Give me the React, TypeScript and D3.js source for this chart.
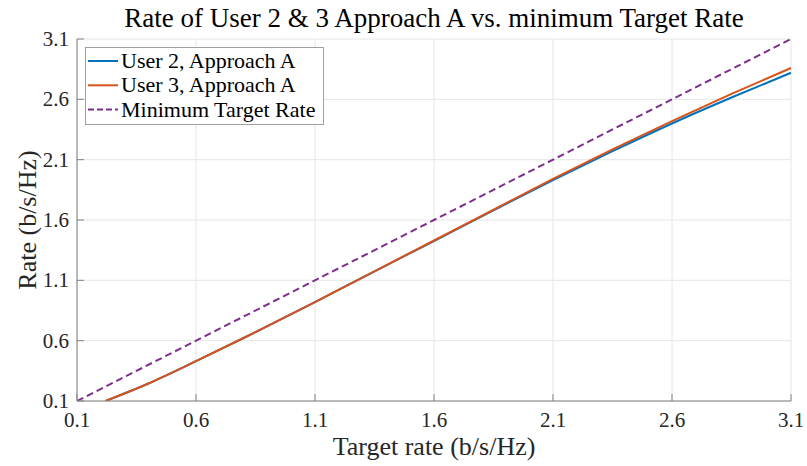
import React from "react";
import * as d3 from "d3";

const xTicks = [0.1, 0.6, 1.1, 1.6, 2.1, 2.6, 3.1];
const yTicks = [0.1, 0.6, 1.1, 1.6, 2.1, 2.6, 3.1];

const targetsU3 = [0.22, 0.4, 0.6, 0.8, 1.1, 1.35, 1.6, 1.85, 2.1, 2.35, 2.6, 2.85, 3.1];
const user3 = [0.1, 0.245, 0.43, 0.622, 0.92, 1.175, 1.43, 1.685, 1.94, 2.185, 2.42, 2.645, 2.86];
const targetsU2 = [0.22, 0.4, 0.6, 0.8, 1.1, 1.35, 1.6, 1.85, 2.1, 2.35, 2.6, 2.85, 3.1];
const user2 = [0.1, 0.245, 0.43, 0.622, 0.92, 1.175, 1.425, 1.68, 1.93, 2.17, 2.4, 2.615, 2.82];
const targetsMin = [0.1, 3.1];
const minRate = [0.1, 3.1];

const legendLabels = ["User 2, Approach A", "User 3, Approach A", "Minimum Target Rate"];
const colors = ["#0072BD", "#D95319", "#7E2F8E"];

const W = 807, H = 466;
const L = 77, R = 791, T = 39, B = 401;
const FONT = "Liberation Serif, DejaVu Serif, serif";

export default function App() {
  const x = d3.scaleLinear().domain([0.1, 3.1]).range([L, R]);
  const y = d3.scaleLinear().domain([0.1, 3.1]).range([B, T]);
  const line = (xs: number[], ys: number[]) =>
    d3.line<number>().x((_, i) => x(xs[i])).y((d) => y(d)).curve(d3.curveMonotoneX)(ys) || "";

  const series = [
    { xs: targetsU2, ys: user2, dash: undefined },
    { xs: targetsU3, ys: user3, dash: undefined },
    { xs: targetsMin, ys: minRate, dash: "7,4" },
  ];

  return (
    <svg width={W} height={H} style={{ position: "absolute", left: 0, top: 0, background: "#fff" }}>
      <defs>
        <clipPath id="plotclip">
          <rect x={L} y={T - 2} width={R - L + 2} height={B - T + 2} />
        </clipPath>
      </defs>
      <rect x={0} y={0} width={W} height={H} fill="#fff" />
      {xTicks.map((t) => (
        <line key={"gx" + t} x1={x(t)} x2={x(t)} y1={T} y2={B} stroke="#e6e6e6" strokeWidth={1} />
      ))}
      {yTicks.map((t) => (
        <line key={"gy" + t} x1={L} x2={R} y1={y(t)} y2={y(t)} stroke="#e6e6e6" strokeWidth={1} />
      ))}
      <g clipPath="url(#plotclip)">
        {series.map((s, i) => (
          <path key={i} d={line(s.xs, s.ys)} fill="none" stroke={colors[i]} strokeWidth={2} strokeDasharray={s.dash} />
        ))}
      </g>
      <line x1={L} x2={R} y1={B} y2={B} stroke="#808080" strokeWidth={1} />
      <line x1={L} x2={L} y1={T} y2={B} stroke="#808080" strokeWidth={1} />
      {xTicks.map((t) => (
        <g key={"tx" + t}>
          <line x1={x(t)} x2={x(t)} y1={B} y2={B - 7} stroke="#808080" />
          <text x={x(t)} y={427} textAnchor="middle" fontFamily={FONT} fontSize={21} fill="#262626">
            {t.toFixed(1)}
          </text>
        </g>
      ))}
      {yTicks.map((t) => (
        <g key={"ty" + t}>
          <line x1={L} x2={L + 7} y1={y(t)} y2={y(t)} stroke="#808080" />
          <text x={69} y={y(t) + 7} textAnchor="end" fontFamily={FONT} fontSize={21} fill="#262626">
            {t.toFixed(1)}
          </text>
        </g>
      ))}
      <text x={434} y={27} textAnchor="middle" fontFamily={FONT} fontSize={27} fill="#000">
        Rate of User 2 &amp; 3 Approach A vs. minimum Target Rate
      </text>
      <text x={434} y={455} textAnchor="middle" fontFamily={FONT} fontSize={26} fill="#262626">
        Target rate (b/s/Hz)
      </text>
      <text transform={`translate(36,${(T + B) / 2}) rotate(-90)`} textAnchor="middle" fontFamily={FONT} fontSize={26} fill="#262626">
        Rate (b/s/Hz)
      </text>
      <rect x={85.5} y={47.5} width={238} height={77} fill="#fff" stroke="#a0a0a0" strokeWidth={1} />
      {legendLabels.map((lab, i) => {
        const cy = 61 + i * 24.3;
        return (
          <g key={lab}>
            <line x1={88} x2={118} y1={cy} y2={cy} stroke={colors[i]} strokeWidth={2} strokeDasharray={i === 2 ? "6,3" : undefined} />
            <text x={121} y={cy + 7} fontFamily={FONT} fontSize={22} fill="#000">
              {lab}
            </text>
          </g>
        );
      })}
    </svg>
  );
}
